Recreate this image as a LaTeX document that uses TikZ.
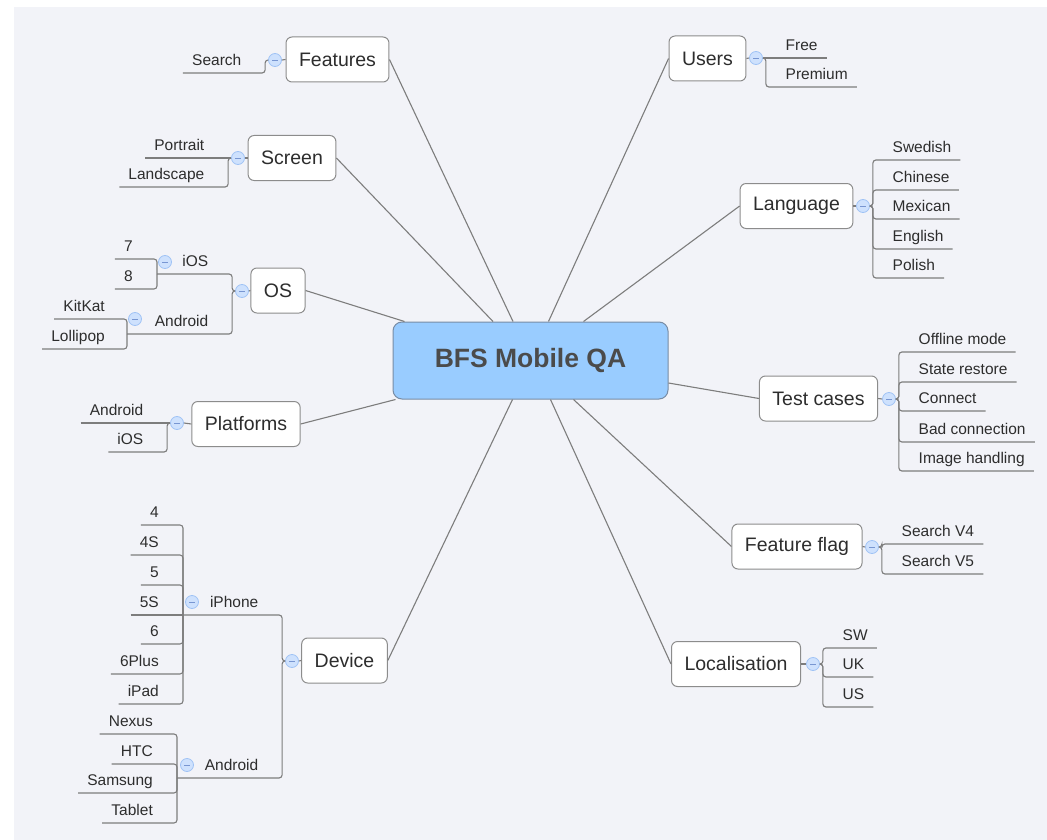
\documentclass[tikz,border=0pt]{standalone}
\usepackage{fontspec}
\setmainfont{Liberation Sans}
\usepackage{tikz}
\usetikzlibrary{calc}

\definecolor{bggray}{RGB}{242,243,248}
\definecolor{linegray}{RGB}{125,125,125}
\definecolor{boxgray}{RGB}{140,140,140}
\definecolor{txt}{RGB}{45,45,45}
\definecolor{rootblue}{RGB}{153,204,255}
\definecolor{rootline}{RGB}{120,140,165}
\definecolor{roottext}{RGB}{75,75,75}
\definecolor{knobfill}{RGB}{206,225,253}
\definecolor{knobline}{RGB}{160,195,245}
\definecolor{knobdash}{RGB}{120,150,210}

\newcommand{\leaffont}{\fontsize{15.5}{18}\selectfont}
\newcommand{\topicfont}{\fontsize{19.5}{23}\selectfont}
\newcommand{\rootfont}{\fontsize{26.5}{31}\selectfont\bfseries}

\begin{document}
\begin{tikzpicture}[x=1pt,y=-1pt,
  topic/.style={draw=boxgray,fill=white,line width=1pt,rounded corners=6pt,minimum height=45pt,inner xsep=13pt,font=\topicfont,text=txt},
  leaf/.style={font=\leaffont,text=txt,inner xsep=9pt,inner ysep=4pt,text height=11.5pt,text depth=3.5pt},
  knob/.style={circle,draw=knobline,fill=knobfill,line width=0.8pt,minimum size=13pt,inner sep=0pt,
    path picture={\draw[knobdash,line width=0.9pt] ([xshift=3.5pt]path picture bounding box.west) -- ([xshift=-3.5pt]path picture bounding box.east);}},
  twig/.style={draw=linegray,line width=1.1pt,rounded corners=3pt},
  spoke/.style={draw=linegray,line width=1.1pt}]

% canvas
\useasboundingbox (0,0) rectangle (1047,840);
\fill[white] (0,0) rectangle (1047,840);
\fill[bggray] (14,7) rectangle (1047,840);

% central topic
\node[draw=rootline,fill=rootblue,line width=1pt,rounded corners=9pt,minimum width=275pt,minimum height=77pt,font=\rootfont,text=roottext] (root) at (530.5,360.5) {BFS Mobile QA};


% Features
\node[topic] (feat) at (337.5,59.5) {Features};
\node[knob] (kfeat) at (275,60) {};
\draw[twig] (feat.west) -- (kfeat.east);
\node[leaf,anchor=south east] (search) at (250.5,73) {Search};
\draw[twig] (search.south west) -- (search.south east) -| ([xshift=-3pt]kfeat.west) -- (kfeat.west);

% Screen (first leaf sits level with the knob)
\node[topic] (screen) at (292,158) {Screen};
\node[knob] (kscreen) at (238,158) {};
\draw[twig] (screen.west) -- (kscreen.east);
\node[leaf,anchor=south east] (screen1) at (213.5,158) {Portrait};
\node[leaf,anchor=south east] (screen2) at (213.5,187) {Landscape};
\draw[twig] (screen1.south west) -- (kscreen.west);
\draw[twig] (screen2.south west) -- (screen2.south east) -| ([xshift=-3pt]kscreen.west) -- (kscreen.west);

% OS, split in iOS and Android
\node[topic] (os) at (278,290.5) {OS};
\node[knob] (kos) at (242,291) {};
\draw[twig] (os.west) -- (kos.east);
\node[leaf,anchor=south east] (ios) at (217.5,274) {iOS};
\node[leaf,anchor=south east] (andr) at (217.5,334) {Android};
\coordinate (jios) at (157,274);
\coordinate (jandr) at (127,334);
\node[knob] (kios) at (165,262) {};
\node[knob] (kandr) at (135,319) {};
\draw[twig] (jios) -- (ios.south east) -| ([xshift=-3pt]kos.west) -- (kos.west);
\draw[twig] (jandr) -- (andr.south east) -| ([xshift=-3pt]kos.west) -- (kos.west);
\foreach \u/\t [count=\i] in {259/7,289/8} {
  \node[leaf,anchor=south east] (ios\i) at (142,\u) {\t};
  \draw[twig] (ios\i.south west) -- (ios\i.south east) -| (jios);
}
\foreach \u/\t [count=\i] in {319/KitKat,349/Lollipop} {
  \node[leaf,anchor=south east] (andr\i) at (114,\u) {\t};
  \draw[twig] (andr\i.south west) -- (andr\i.south east) -| (jandr);
}

% Platforms (first leaf level with the knob)
\node[topic] (plat) at (246,424) {Platforms};
\node[knob] (kplat) at (177,423) {};
\draw[twig] (plat.west) -- (kplat.east);
\node[leaf,anchor=south east] (plat1) at (152.5,423) {Android};
\node[leaf,anchor=south east] (plat2) at (152.5,452) {iOS};
\draw[twig] (plat1.south west) -- (kplat.west);
\draw[twig] (plat2.south west) -- (plat2.south east) -| ([xshift=-3pt]kplat.west) -- (kplat.west);

% Device, split in iPhone and Android
\node[topic] (dev) at (344.5,660.5) {Device};
\node[knob] (kdev) at (292,661) {};
\draw[twig] (dev.west) -- (kdev.east);
\node[leaf,anchor=south east] (iph) at (267.5,615) {iPhone};
\node[leaf,anchor=south east] (droid) at (267.5,778) {Android};
\coordinate (jiph) at (183,615);
\coordinate (jdroid) at (177,778);
\node[knob] (kiph) at (192,602) {};
\node[knob] (kdroid) at (187,765) {};
\draw[twig] (jiph) -- (iph.south east) -| ([xshift=-3pt]kdev.west) -- (kdev.west);
\draw[twig] (jdroid) -- (droid.south east) -| ([xshift=-3pt]kdev.west) -- (kdev.west);
\foreach \u/\t/\n in {525/4/1,555/4S/2,585/5/3,644/6/5,674/6Plus/6,704/iPad/7} {
  \node[leaf,anchor=south east] (iph\n) at (168,\u) {\t};
  \draw[twig] (iph\n.south west) -- (iph\n.south east) -| (jiph);
}
\node[leaf,anchor=south east] (iph4) at (168,615) {5S};
\draw[twig] (iph4.south west) -- (jiph);
\foreach \u/\t [count=\i] in {734/Nexus,764/HTC,793/Samsung,823/Tablet} {
  \node[leaf,anchor=south east] (droid\i) at (162,\u) {\t};
  \draw[twig] (droid\i.south west) -- (droid\i.south east) -| (jdroid);
}


% Users (first leaf level with the knob)
\node[topic] (users) at (707.5,58.5) {Users};
\node[knob] (kusers) at (756,58) {};
\draw[twig] (users.east) -- (kusers.west);
\node[leaf,anchor=south west] (users1) at (776.5,58) {Free};
\node[leaf,anchor=south west] (users2) at (776.5,87) {Premium};
\draw[twig] (users1.south east) -- (kusers.east);
\draw[twig] (users2.south east) -- (users2.south west) -| ([xshift=3pt]kusers.east) -- (kusers.east);

% Language
\node[topic] (lang) at (796.5,206) {Language};
\node[knob] (klang) at (863,206) {};
\draw[twig] (lang.east) -- (klang.west);
\foreach \u/\t [count=\i] in {160/Swedish,190/Chinese,219/Mexican,249/English,278/Polish} {
  \node[leaf,anchor=south west] (lang\i) at (883.5,\u) {\t};
  \draw[twig] (lang\i.south east) -- (lang\i.south west) -| ([xshift=3pt]klang.east) -- (klang.east);
}

% Test cases
\node[topic] (tc) at (818.5,398.5) {Test cases};
\node[knob] (ktc) at (889,399) {};
\draw[twig] (tc.east) -- (ktc.west);
\foreach \u/\t [count=\i] in {352/Offline mode,382/State restore,411/Connect,442/Bad connection,471/Image handling} {
  \node[leaf,anchor=south west] (tc\i) at (909.5,\u) {\t};
  \draw[twig] (tc\i.south east) -- (tc\i.south west) -| ([xshift=3pt]ktc.east) -- (ktc.east);
}

% Feature flag
\node[topic] (flag) at (797,546.5) {Feature flag};
\node[knob] (kflag) at (872,547) {};
\draw[twig] (flag.east) -- (kflag.west);
\foreach \u/\t [count=\i] in {544/Search V4,574/Search V5} {
  \node[leaf,anchor=south west] (flag\i) at (892.5,\u) {\t};
  \draw[twig] (flag\i.south east) -- (flag\i.south west) -| ([xshift=3pt]kflag.east) -- (kflag.east);
}

% Localisation
\node[topic] (loc) at (736,664) {Localisation};
\node[knob] (kloc) at (813,664) {};
\draw[twig] (loc.east) -- (kloc.west);
\foreach \u/\t [count=\i] in {648/SW,677/UK,707/US} {
  \node[leaf,anchor=south west] (loc\i) at (833.5,\u) {\t};
  \draw[twig] (loc\i.south east) -- (loc\i.south west) -| ([xshift=3pt]kloc.east) -- (kloc.east);
}


% spokes from the central topic
\draw[spoke] (feat.east) -- ($(root.north)+(-17.5,0)$);
\draw[spoke] (screen.east) -- ($(root.north)+(-37.5,0)$);
\draw[spoke] (os.east) -- ($(root.north west)+(12,0)$);
\draw[spoke] (plat.east) -- ($(root.south west)+(3,0)$);
\draw[spoke] (dev.east) -- ($(root.south)+(-18,0)$);
\draw[spoke] (users.west) -- ($(root.north)+(18,0)$);
\draw[spoke] (lang.west) -- ($(root.north)+(53,0)$);
\draw[spoke] (tc.west) -- ($(root.east)+(0,22.5)$);
\draw[spoke] (flag.west) -- ($(root.south)+(43,0)$);
\draw[spoke] (loc.west) -- ($(root.south)+(20,0)$);

\end{tikzpicture}
\end{document}
